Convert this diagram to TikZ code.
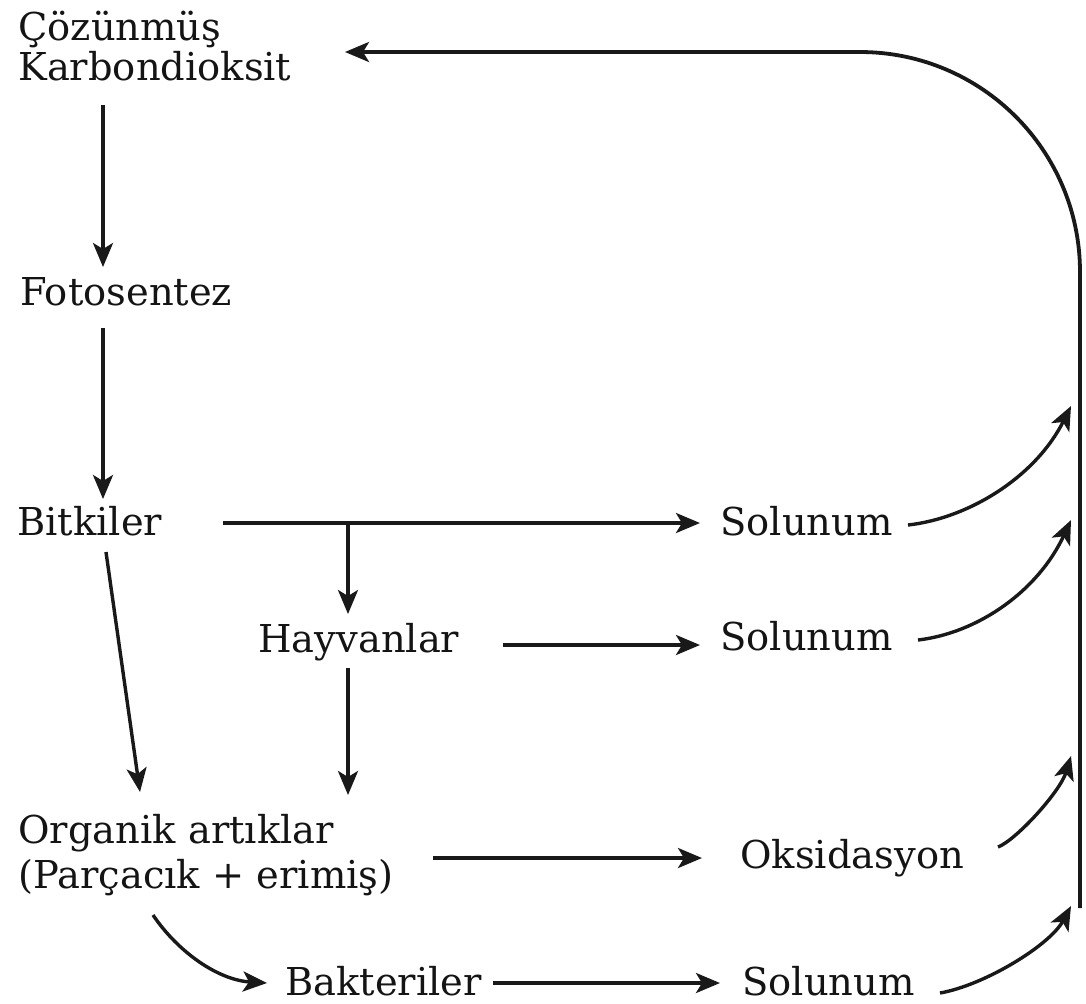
\documentclass[tikz,border=0pt]{standalone}
\usepackage{fontspec}
\setmainfont{DejaVu Serif}
\usetikzlibrary{arrows.meta,calc}
\begin{document}
\begin{tikzpicture}[x=0.5pt,y=-0.5pt,
  lbl/.style={anchor=base west, inner sep=0pt, font=\fontsize{19.2}{23}\selectfont, text=black!92},
  arr/.style={-{Stealth[length=12pt,width=10pt,inset=3pt]}, line width=1.7pt, draw=black!90},
  ln/.style={line width=1.7pt, draw=black!90}]
\useasboundingbox (0,0) rectangle (1086,1003);
% labels
\node[lbl] (coz)   at (18,40)   {Çözünmüş};
\node[lbl] (kar)   at (18,80)   {Karbondioksit};
\node[lbl] (foto)  at (20,305)  {Fotosentez};
\node[lbl] (bitki) at (17,535)  {Bitkiler};
\node[lbl] (sola)  at (720,535) {Solunum};
\node[lbl] (hay)   at (258,652) {Hayvanlar};
\node[lbl] (solb)  at (720,650) {Solunum};
\node[lbl] (orga)  at (18,843)  {Organik artıklar};
\node[lbl] (orgb)  at (18,888)  {(Parçacık + erimiş)};
\node[lbl] (oks)   at (740,868) {Oksidasyon};
\node[lbl] (bak)   at (285,995) {Bakteriler};
\node[lbl] (sold)  at (742,995) {Solunum};
% coordinates on the return line
\coordinate (vbot) at (1080,908);
\coordinate (vtop) at (1080,52);
\coordinate (ta) at (1071,406);
\coordinate (tb) at (1071,520);
\coordinate (tc) at (1071,756);
\coordinate (td) at (1071,906);
\coordinate (br) at ($(bitki.base west)+(331,-12)$);
% main chain
\draw[arr] ($(kar.base west)+(85,25)$) -- ($(foto.base west)+(83,-38)$);
\draw[arr] ($(foto.base west)+(83,23)$) -- ($(bitki.base west)+(86,-36)$);
\draw[arr] ($(bitki.base west)+(206,-12)$) -- ($(sola.base west)+(-20,-12)$);
\draw[arr] (br) -- ($(hay.base west)+(90,-38)$);
\draw[arr] ($(hay.base west)+(245,-7)$) -- ($(solb.base west)+(-20,-5)$);
\draw[arr] ($(hay.base west)+(90,16)$) -- ($(orga.base west)+(330,-48)$);
\draw[arr] ($(bitki.base west)+(89,17)$) -- ($(orga.base west)+(122,-51)$);
\draw[arr] ($(orgb.base west)+(415,-30)$) -- ($(oks.base west)+(-38,-10)$);
\draw[arr] ($(orgb.base west)+(135,27)$) .. controls (178,952) and (218,980) .. ($(bak.base west)+(-18,-12)$);
\draw[arr] ($(bak.base west)+(208,-12)$) -- ($(sold.base west)+(-22,-12)$);
% curves to the return line
\draw[arr] ($(sola.base west)+(188,-10)$) .. controls (970,518) and (1036,476) .. (ta);
\draw[arr] ($(solb.base west)+(198,-10)$) .. controls (978,633) and (1038,591) .. (tb);
\draw[arr] ($(oks.base west)+(258,-21)$) .. controls (1016,840) and (1060,792) .. (tc);
\draw[arr] ($(sold.base west)+(198,-2)$) .. controls (985,985) and (1050,945) .. (td);
% return line
\draw[arr, line width=1.9pt, rounded corners=110pt] (vbot) -- (vtop) -- ($(kar.base west)+(327,-28)$);
\end{tikzpicture}
\end{document}
